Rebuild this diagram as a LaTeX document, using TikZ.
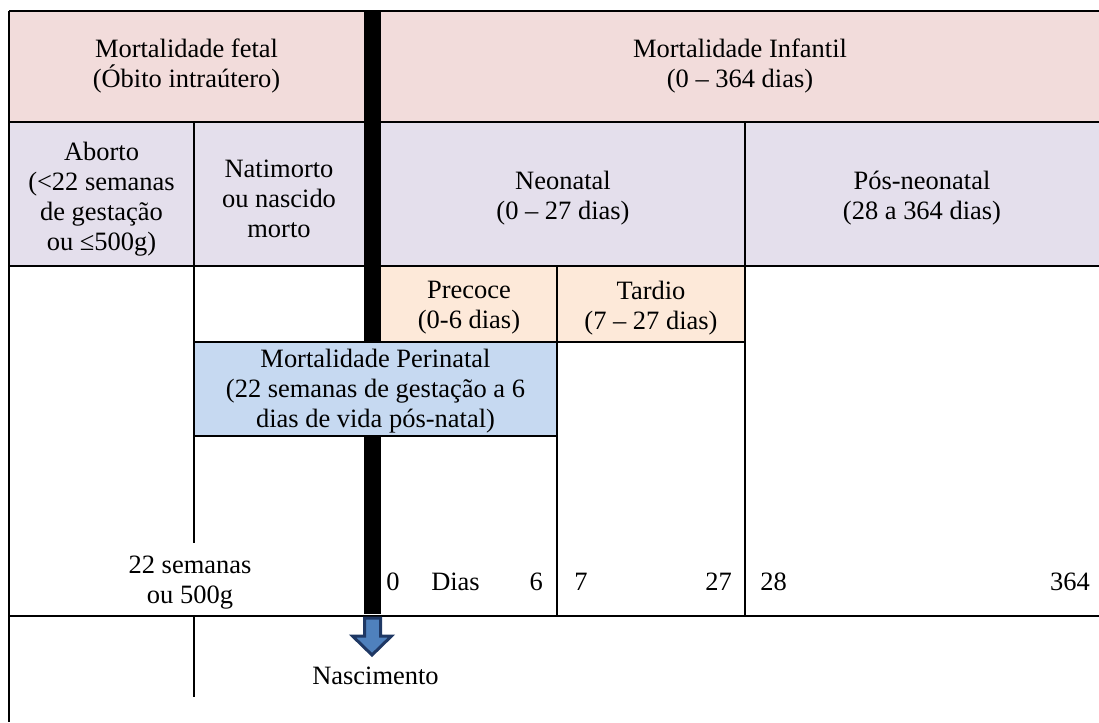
\documentclass[tikz,border=0pt]{standalone}
\usepackage{fontspec}
\setmainfont{Liberation Serif}
\usepackage{xcolor}
\usetikzlibrary{positioning}

\definecolor{hdrpink}{HTML}{F2DCDB}
\definecolor{grplilac}{HTML}{E4DFEC}
\definecolor{subpeach}{HTML}{FDE9D9}
\definecolor{periblue}{HTML}{C6D9F1}
\definecolor{birthfill}{HTML}{4F81BD}
\definecolor{birthedge}{HTML}{1F3864}

\begin{document}
\begin{tikzpicture}[
    x=0.75pt, y=-0.75pt,
    lbl/.style={align=center, inner sep=0pt, font=\fontsize{19.85}{22.5}\selectfont},
    num/.style={inner sep=0pt, font=\fontsize{19.85}{22.5}\selectfont},
    rule/.style={line width=1.5pt},
    timebar/.style={fill=black},
    birth/.style={fill=birthfill, draw=birthedge, line width=2.25pt, line join=miter},
]
    \useasboundingbox (0,0) rectangle (1099,722);

    % cell fills
    \fill[hdrpink] (9,11) rectangle (1099,122);
    \fill[grplilac] (9,122) rectangle (1099,266);
    \fill[subpeach] (381,266) rectangle (745,342);

    % grid lines
    \foreach \y in {11,122,266,616}
        \draw[rule] (9,\y) -- (1099,\y);
    \draw[rule] (194,342) -- (745,342);
    \draw[rule] (9,11) -- (9,722);
    \draw[rule] (194,122) -- (194,543);
    \draw[rule] (194,616) -- (194,697);
    \draw[rule] (557,266) -- (557,616);
    \draw[rule] (745,122) -- (745,616);

    % birth line
    \fill[timebar] (364,11) rectangle (381,614);

    % perinatal box lies over the birth line
    \draw[rule, fill=periblue] (194,342) rectangle (557,436);

    \node[lbl] (fetal) at (186.5,66) {Mortalidade fetal\\(Óbito intraútero)};
    \node[lbl] (infantil) at (740,66) {Mortalidade Infantil\\(0 – 364 dias)};
    \node[lbl] (aborto) at (101.5,199) {Aborto\\(<22 semanas\\de gestação\\ou ≤500g)};
    \node[lbl] (natimorto) at (279,199) {Natimorto\\ou nascido\\morto};
    \node[lbl] (neonatal) at (563,198) {Neonatal\\(0 – 27 dias)};
    \node[lbl] (posneo) at (922,198) {Pós-neonatal\\(28 a 364 dias)};
    \node[lbl] (precoce) at (469,308) {Precoce\\(0-6 dias)};
    \node[lbl] (tardio) at (651,308) {Tardio\\(7 – 27 dias)};
    \node[lbl] (perinatal) at (375.5,391) {Mortalidade Perinatal\\(22 semanas de gestação a 6\\dias de vida pós-natal)};
    \node[lbl] (limite) at (190,583) {22 semanas\\ou 500g};

    % day scale
    \node[num, anchor=base west] (d0) at (386,590) {0};
    \node[num, anchor=base west] (dias) at (431,590) {Dias};
    \node[num, anchor=base east] (d6) at (543,590) {6};
    \node[num, anchor=base west] (d7) at (574,590) {7};
    \node[num, anchor=base east] (d27) at (732,590) {27};
    \node[num, anchor=base west] (d28) at (760,590) {28};
    \node[num, anchor=base east] (d364) at (1090,590) {364};

    % birth arrow
    \draw[birth] (364.5,618) -- (380.5,618) -- (380.5,636) -- (391.5,636)
        -- (372,655) -- (352.5,636) -- (364.5,636) -- cycle;
    \node[lbl] (nasc) at (375.5,676) {Nascimento};
\end{tikzpicture}
\end{document}
